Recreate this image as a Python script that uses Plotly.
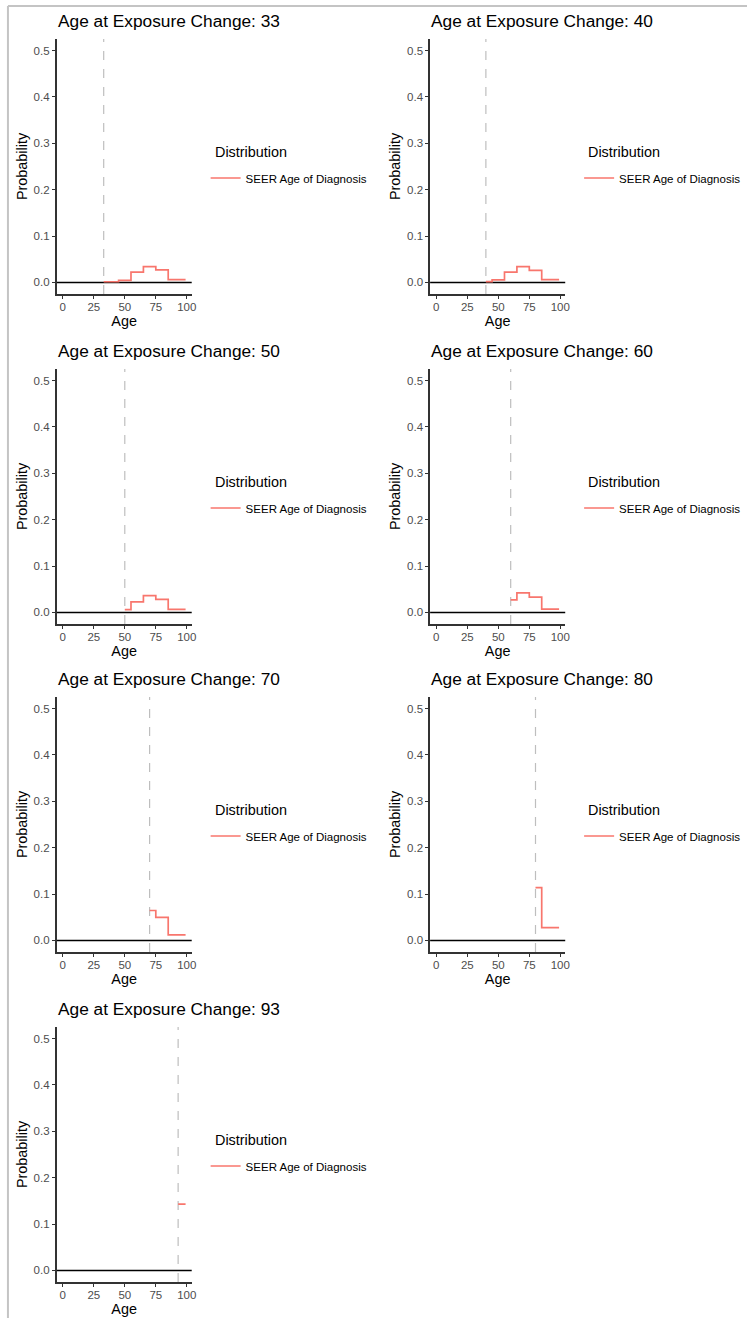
import plotly.graph_objects as go

# ---------------- data ----------------
change_ages = [33, 40, 50, 60, 70, 80, 93]

ages_33 = [33, 45, 55, 65, 75, 85, 99]
prob_33 = [0.0014, 0.0045, 0.022, 0.034, 0.027, 0.0058, 0.0058]

ages_40 = [40, 45, 55, 65, 75, 85, 99]
prob_40 = [0.0018, 0.0055, 0.022, 0.034, 0.026, 0.0058, 0.0058]

ages_50 = [50, 55, 65, 75, 85, 99]
prob_50 = [0.0058, 0.0227, 0.036, 0.028, 0.0065, 0.0065]

ages_60 = [60, 65, 75, 85, 99]
prob_60 = [0.027, 0.042, 0.033, 0.0072, 0.0072]

ages_70 = [70, 75, 85, 99]
prob_70 = [0.0645, 0.0496, 0.012, 0.012]

ages_80 = [80, 85, 99]
prob_80 = [0.114, 0.0277, 0.0277]

ages_93 = [93, 99]
prob_93 = [0.143, 0.143]

series_ages = [ages_33, ages_40, ages_50, ages_60, ages_70, ages_80, ages_93]
series_prob = [prob_33, prob_40, prob_50, prob_60, prob_70, prob_80, prob_93]

x_ticks = [0, 25, 50, 75, 100]
y_ticks = [0.0, 0.1, 0.2, 0.3, 0.4, 0.5]
series_name = "SEER Age of Diagnosis"
legend_title = "Distribution"
title_prefix = "Age at Exposure Change: "
reference_y = 0

# ---------------- layout geometry (pixels) ----------------
W, H = 752, 1318
col_left = [57, 433]
panel_w = 136
row_top = [39, 369, 697, 1027]
panel_h = 255

FONT = "Liberation Sans, Arial, sans-serif"
RED = "#F8766D"

fig = go.Figure()

def px_x(v):
    return v / W

def px_y(v):
    return 1 - v / H

for i, (age_c, xs, ys) in enumerate(zip(change_ages, series_ages, series_prob)):
    r, c = divmod(i, 2)
    n = i + 1
    xa = "x" if n == 1 else f"x{n}"
    ya = "y" if n == 1 else f"y{n}"
    xkey = "xaxis" if n == 1 else f"xaxis{n}"
    ykey = "yaxis" if n == 1 else f"yaxis{n}"
    lg = "legend" if n == 1 else f"legend{n}"

    left = col_left[c]
    top = row_top[r]

    fig.add_trace(go.Scatter(
        x=xs, y=ys, mode="lines", line=dict(color=RED, width=1.7, shape="hv"),
        name=series_name, xaxis=xa, yaxis=ya, legend=lg, showlegend=True,
        hoverinfo="x+y",
    ))

    fig.update_layout(**{
        xkey: dict(
            domain=[px_x(left), px_x(left + panel_w)],
            anchor=ya, range=[-4.95, 103.95], tickvals=x_ticks,
            showgrid=False, zeroline=False, showline=True,
            linecolor="#333333", linewidth=1.5,
            ticks="outside", ticklen=3, tickwidth=1.2, tickcolor="#333333",
            ticklabelstandoff=-2,
            tickfont=dict(family=FONT, size=11.5, color="#4D4D4D"),
            title=dict(text="Age", font=dict(family=FONT, size=14.4, color="black"),
                       standoff=0),
        ),
        ykey: dict(
            domain=[px_y(top + panel_h), px_y(top)],
            anchor=xa, range=[-0.025, 0.525], tickvals=y_ticks,
            tickformat=".1f",
            showgrid=False, zeroline=False, showline=True,
            linecolor="#333333", linewidth=1.5,
            ticks="outside", ticklen=3, tickwidth=1.2, tickcolor="#333333",
            tickfont=dict(family=FONT, size=11.5, color="#4D4D4D"),
            title=dict(text="Probability", font=dict(family=FONT, size=14.4, color="black"),
                       standoff=3),
        ),
        lg: dict(
            x=px_x(left + 150), y=px_y(top + 139), xanchor="left", yanchor="middle",
            xref="paper", yref="paper",
            bgcolor="rgba(0,0,0,0)", borderwidth=0,
            font=dict(family=FONT, size=11.5, color="black"),
            itemwidth=30,
        ),
    })

    # legend heading
    fig.add_annotation(
        text=legend_title, xref="paper", yref="paper",
        x=px_x(left + 157), y=px_y(top + 113), xanchor="left", yanchor="middle",
        showarrow=False, font=dict(family=FONT, size=14.4, color="black"),
    )

    # reference line at y = 0 and dashed line at the exposure change age
    fig.add_shape(type="line", xref=f"{xa} domain", yref=ya,
                  x0=0, x1=1, y0=reference_y, y1=reference_y,
                  line=dict(color="black", width=1.5), layer="below")
    fig.add_shape(type="line", xref=xa, yref=f"{ya} domain",
                  x0=age_c, x1=age_c, y0=0, y1=1,
                  line=dict(color="#BEBEBE", width=1.2, dash="dash"), layer="below")

    fig.add_annotation(
        text=title_prefix + str(age_c), xref="paper", yref="paper",
        x=px_x(left - 1), y=px_y(top - 18), xanchor="left", yanchor="middle",
        showarrow=False, font=dict(family=FONT, size=17.3, color="black"),
    )

# outer frame lines (page border)
fig.add_shape(type="line", xref="paper", yref="paper", x0=px_x(8), x1=1,
              y0=px_y(6), y1=px_y(6), line=dict(color="#C4C4C4", width=2))
fig.add_shape(type="line", xref="paper", yref="paper", x0=px_x(8), x1=px_x(8),
              y0=px_y(6), y1=0, line=dict(color="#C4C4C4", width=2))

fig.update_layout(
    width=W, height=H, margin=dict(l=0, r=0, t=0, b=0),
    paper_bgcolor="white", plot_bgcolor="white",
    font=dict(family=FONT),
)

fig.write_html(
    "out.html",
    config={"displayModeBar": False},
    post_script="document.body.style.margin='0';document.body.style.overflow='hidden';",
)
